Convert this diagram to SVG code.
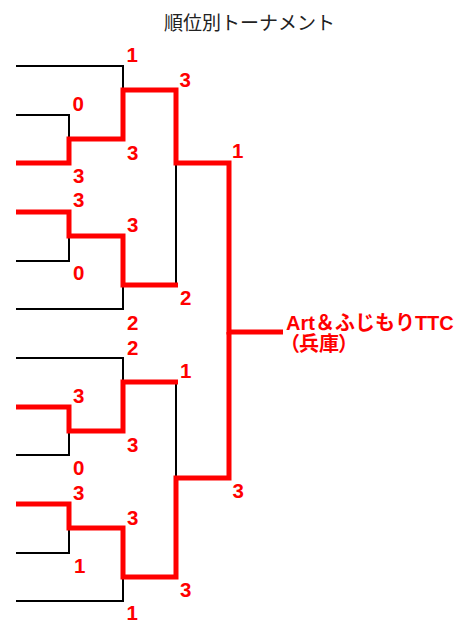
<svg xmlns="http://www.w3.org/2000/svg" width="474" height="623" viewBox="0 0 474 623">
<style>
.blk{fill:none;stroke:#000;stroke-width:2;stroke-linejoin:miter}
.red{fill:none;stroke:#ff0000;stroke-width:5;stroke-linejoin:miter;stroke-linecap:butt}
.sc{font-family:"Liberation Sans",Arial,sans-serif;font-weight:bold;font-size:20.5px;fill:#ff0000}
.ttl{font-family:"Noto Sans CJK JP","Noto Sans",sans-serif;font-size:19px;fill:#222}
.team{font-family:"Liberation Sans","Noto Sans CJK JP",sans-serif;font-weight:bold;font-size:20px;fill:#ff0000}
</style>
<rect width="474" height="623" fill="#fff"/>
<g id="title"><text class="ttl" x="164" y="30">順位別トーナメント</text></g>
<g id="connectors">
<path class="blk" d="M16,66 H123 V90"/>
<path class="blk" d="M16,115 H69 V139"/>
<path class="blk" d="M69,236 V261 H16"/>
<path class="blk" d="M16,309 H123 V285"/>
<path class="blk" d="M176,163 V285"/>
<path class="blk" d="M229,163 V332"/>
<path class="blk" d="M16,358 H123 V382"/>
<path class="blk" d="M69,431 V455 H16"/>
<path class="blk" d="M176,382 V478"/>
<path class="blk" d="M69,528 V553 H16"/>
<path class="blk" d="M16,601 H123 V577"/>
<path class="red" d="M16,163 H69 V139 H123 V90 H176 V163 H229 V332 H283"/>
<path class="red" d="M16,212 H69 V236 H123 V285 H178"/>
<path class="red" d="M16,407 H69 V431 H123 V382 H178"/>
<path class="red" d="M16,504 H69 V528 H123 V577 H176 V478 H229 V332"/>
</g>
<g id="scores">
<text class="sc" x="126.5" y="62">1</text>
<text class="sc" x="179.5" y="87">3</text>
<text class="sc" x="72.5" y="111">0</text>
<text class="sc" x="127" y="160">3</text>
<text class="sc" x="232" y="158">1</text>
<text class="sc" x="73" y="183">3</text>
<text class="sc" x="73" y="207">3</text>
<text class="sc" x="127" y="232">3</text>
<text class="sc" x="73" y="280">0</text>
<text class="sc" x="180" y="305">2</text>
<text class="sc" x="127" y="330">2</text>
<text class="sc" x="127" y="355">2</text>
<text class="sc" x="180" y="378">1</text>
<text class="sc" x="73" y="403">3</text>
<text class="sc" x="127" y="452">3</text>
<text class="sc" x="73" y="475">0</text>
<text class="sc" x="73" y="500">3</text>
<text class="sc" x="127" y="525">3</text>
<text class="sc" x="74" y="573">1</text>
<text class="sc" x="180" y="597">3</text>
<text class="sc" x="126.5" y="620">1</text>
<text class="sc" x="232.5" y="498">3</text>
</g>
<g id="winner">
<text class="team" x="286" y="330">Art＆ふじもりTTC</text>
<text class="team" x="289" y="351" style="font-feature-settings:'palt'">（兵庫）</text>
</g>
</svg>
